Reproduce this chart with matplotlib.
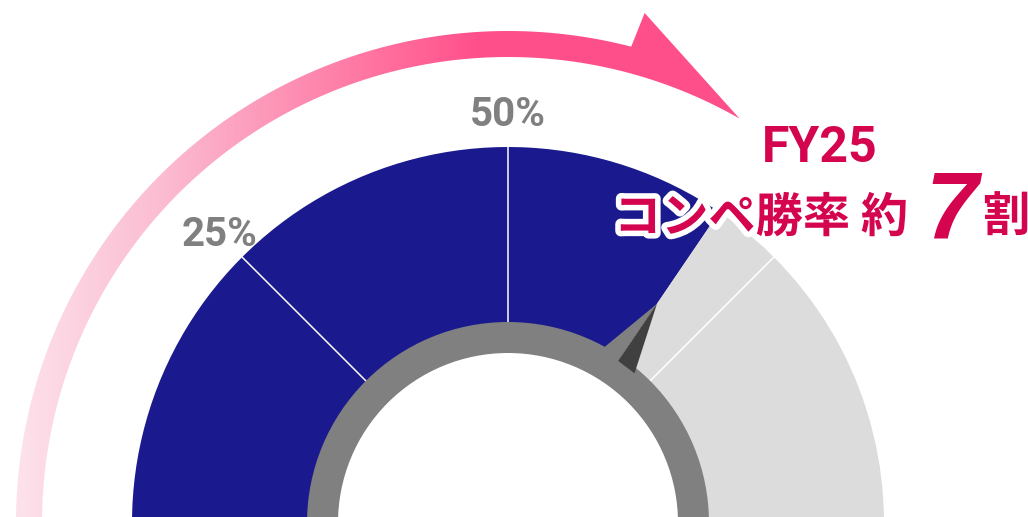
import matplotlib
matplotlib.use('Agg')
import matplotlib.pyplot as plt
import numpy as np
from matplotlib.patches import Wedge, Polygon
from matplotlib.colors import LinearSegmentedColormap
import matplotlib.patheffects as pe

# dati del grafico
value = 69
gauge_ticks = [25, 50, 75]
label_ticks = [25, 50]
label_texts = ['25%', '50%']
title_text = 'FY25'
main_text = 'コンペ勝率 約'
big_number = '7'
unit_text = '割'

BLUE = '#1a1a8e'
LIGHT = '#dcdcdc'
RING = '#808080'
NEEDLE = '#404040'
RED = '#d4044f'

W, H = 1028, 517
cx, cy = 508, -6
r_out, r_in = 376, 190


def ang(p):
    return 180 - p * 1.8


def pt(r, a):
    t = np.radians(a)
    return cx + r * np.cos(t), cy + r * np.sin(t)


fig = plt.figure(figsize=(W / 100, H / 100), dpi=100)
ax = fig.add_axes([0, 0, 1, 1])
ax.set_xlim(0, W)
ax.set_ylim(0, H)
ax.axis('off')

# freccia con gradiente
R1, R2 = 492, 466
a_start, a_notch, a_barb, a_tip = 181, 75.5, 75, 60.2
outer = [pt(R1, a) for a in np.linspace(a_start, a_notch, 200)]
head = [pt(528, a_barb), pt(R2, a_tip)]
inner = [pt(R2, a) for a in np.linspace(a_tip, a_start, 200)]
arrow = Polygon(outer + head + inner, closed=True, facecolor='none', edgecolor='none')
ax.add_patch(arrow)
cmap = LinearSegmentedColormap.from_list('pk', [(0, '#fde6ee'), (0.35, '#fbbad0'),
                                                (0.75, '#ff78a4'), (1, '#ff4f8a')])
xs = np.linspace(0, W, 600)
grad = np.clip(xs / 480, 0, 1)[None, :]
im = ax.imshow(grad, cmap=cmap, extent=[0, W, 0, H], aspect='auto', zorder=1)
im.set_clip_path(arrow)

# settori del gauge
ax.add_patch(Wedge((cx, cy), r_out, ang(value), 180, width=r_out - r_in, facecolor=BLUE,
                   edgecolor='none', zorder=2))
ax.add_patch(Wedge((cx, cy), r_out, 0, ang(value), width=r_out - r_in, facecolor=LIGHT,
                   edgecolor='none', zorder=2))
for t in gauge_ticks:
    x0, y0 = pt(200, ang(t))
    x1, y1 = pt(r_out, ang(t))
    ax.plot([x0, x1], [y0, y1], color='white', lw=1.1, zorder=3)

# anello e lancetta
ax.add_patch(Wedge((cx, cy), 201, 0, 180, width=31, facecolor=RING, edgecolor='none', zorder=4))
av = ang(value)
tip = pt(265, av)
bl, bc, br = pt(196, av + 6), pt(196, av), pt(196, av - 6)
ax.add_patch(Polygon([bl, tip, bc], closed=True, facecolor=RING, edgecolor='none', zorder=4))
ax.add_patch(Polygon([bc, tip, br], closed=True, facecolor=NEEDLE, edgecolor='none', zorder=4))

# etichette
for t, s in zip(label_ticks, label_texts):
    x, y = pt(408, ang(t))
    ax.text(x, y, s, ha='center', va='center', fontsize=29, fontweight='bold',
            family='Roboto', color='#808080', zorder=5)

outline = [pe.withStroke(linewidth=8, foreground='white')]
ax.text(820, H - 162, title_text, ha='center', va='baseline', fontsize=36,
        fontweight='bold', family='Roboto', color=RED, zorder=6)
ax.text(614, H - 232, main_text, ha='left', va='baseline', fontsize=34, fontweight='bold',
        family=['Noto Sans CJK JP', 'DejaVu Sans'], color=RED, path_effects=outline, zorder=6)
ax.text(952, H - 238, big_number, ha='center', va='baseline', fontsize=68, fontweight='bold',
        fontstyle='italic', family='Liberation Sans', color=RED, zorder=6)
ax.text(982, H - 232, unit_text, ha='left', va='baseline', fontsize=34, fontweight='bold',
        family=['Noto Sans CJK JP', 'DejaVu Sans'], color=RED, zorder=6)

fig.savefig('out.png', dpi=100)
